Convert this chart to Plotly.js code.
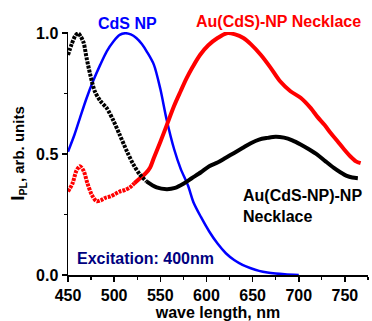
<!DOCTYPE html>
<html><head><meta charset="utf-8">
<script src="https://cdn.plot.ly/plotly-3.0.1.min.js"></script>
<style>html,body{margin:0;padding:0;background:#fff;}#chart{width:372px;height:321px;}</style>
</head><body><div id="chart"></div>
<script>
const wlBlack = [450,454,458,461,464,467,470,474,479,485,492,499,506,514,521,528,535,546,557,566,575,584,594,603,612,621,630,639,648,657,666,675,684,693,702,711,720,729,738,745,752,758,764];
const ipBlack = [0.91,0.955,0.99,1.0,0.985,0.96,0.90,0.83,0.76,0.72,0.69,0.64,0.58,0.51,0.456,0.415,0.387,0.362,0.355,0.36,0.377,0.40,0.425,0.45,0.465,0.485,0.505,0.525,0.545,0.56,0.567,0.572,0.568,0.557,0.54,0.52,0.498,0.47,0.443,0.425,0.41,0.403,0.40];
const wlRed = [450,455,459,463,467,471,476,481,486,491,496,501,506,512,517,522,528,534,539,543,550,557,565,572,578,585,593,602,612,622,631,640,648,659,669,680,691,702,713,720,728,735,742,749,756,762,767];
const ipRed = [0.345,0.38,0.43,0.45,0.43,0.38,0.33,0.305,0.31,0.32,0.325,0.335,0.345,0.352,0.362,0.38,0.40,0.42,0.445,0.484,0.55,0.62,0.70,0.76,0.81,0.86,0.91,0.95,0.98,1.0,0.995,0.98,0.955,0.91,0.86,0.80,0.76,0.733,0.69,0.655,0.62,0.585,0.553,0.52,0.49,0.47,0.463];
const wlBlue = [450,457,463,470,477,485,492,499,506,512,518,524,530,536,543,550,557,565,572,580,586,594,603,612,621,630,639,648,657,666,675,685,700];
const ipBlue = [0.51,0.58,0.65,0.73,0.80,0.87,0.925,0.965,0.993,1.0,0.995,0.98,0.955,0.92,0.87,0.77,0.64,0.52,0.44,0.37,0.30,0.24,0.18,0.13,0.09,0.062,0.042,0.028,0.017,0.01,0.006,0.003,0.0];
const xTicks = [450,500,550,600,650,700,750];
const yTicks = [0.0,0.5,1.0];
const yTickText = ['0.0','0.5','1.0'];

const blackSplit = 16, redSplit = 15;
const F = 'Liberation Sans, Arial, sans-serif';
const traces = [
  {x: wlBlue, y: ipBlue, mode:'lines', line:{color:'#0000ff', width:2.5, shape:'spline', smoothing:0.8}},
  {x: wlRed.slice(0,redSplit+1), y: ipRed.slice(0,redSplit+1), mode:'lines', line:{color:'#ff0000', width:4, dash:'3px,1px', shape:'spline', smoothing:0.8}},
  {x: wlRed.slice(redSplit), y: ipRed.slice(redSplit), mode:'lines', line:{color:'#ff0000', width:4, shape:'spline', smoothing:0.8}},
  {x: wlBlack.slice(0,blackSplit+1), y: ipBlack.slice(0,blackSplit+1), mode:'lines', line:{color:'#000000', width:4, dash:'3px,1.2px', shape:'spline', smoothing:0.8}},
  {x: wlBlack.slice(blackSplit), y: ipBlack.slice(blackSplit), mode:'lines', line:{color:'#000000', width:4, shape:'spline', smoothing:0.8}}
];
const ax = {showgrid:false, zeroline:false, showline:true, linecolor:'#000', linewidth:1.5,
  ticks:'outside', ticklen:5, tickwidth:1.5, tickcolor:'#000',
  tickfont:{family:F, size:16, color:'#000', weight:'bold'}};
const layout = {
  width:372, height:321, margin:{l:68, r:4, t:32, b:46},
  paper_bgcolor:'#fff', plot_bgcolor:'#fff', showlegend:false,
  xaxis: Object.assign({}, ax, {range:[450,775], tickvals:xTicks, ticktext:xTicks.map(String),
    minor:{dtick:25, tick0:450, ticks:'outside', ticklen:3, tickwidth:1.2, tickcolor:'#000'},
    title:{text:'<b>wave length, nm</b>', font:{family:F, size:16, color:'#000'}, standoff:4}}),
  yaxis: Object.assign({}, ax, {range:[0,1.005], tickvals:yTicks, ticktext:yTickText,
    minor:{dtick:0.25, tick0:0, ticks:'outside', ticklen:3, tickwidth:1.2, tickcolor:'#000'},
    title:{text:'<span style="font-size:19px">I</span><sub>PL</sub><b>, arb. units</b>', font:{family:F, size:15, color:'#000', weight:'bold'}, standoff:8}}),
  annotations:[
    {xref:'paper', yref:'paper', x:(127-68)/300, y:(275-24)/243, text:'<b>CdS NP</b>', showarrow:false, font:{family:F, size:16, color:'#0000ff'}, xanchor:'center', yanchor:'middle'},
    {xref:'paper', yref:'paper', x:(278-68)/300, y:(275-22)/243, text:'<b>Au(CdS)-NP Necklace</b>', showarrow:false, font:{family:F, size:16, color:'#ff0000'}, xanchor:'center', yanchor:'middle'},
    {xref:'paper', yref:'paper', x:(241-68)/300, y:(275-206)/243, text:'<b>Au(CdS-NP)-NP<br>Necklace</b>', showarrow:false, align:'left', font:{family:F, size:16, color:'#000'}, xanchor:'left', yanchor:'middle'},
    {xref:'paper', yref:'paper', x:(75-68)/300, y:(275-258)/243, text:'<b>Excitation: 400nm</b>', showarrow:false, font:{family:F, size:16, color:'#000080'}, xanchor:'left', yanchor:'middle'}
  ]
};
Plotly.newPlot('chart', traces, layout, {staticPlot:true, displayModeBar:false});
</script></body></html>
